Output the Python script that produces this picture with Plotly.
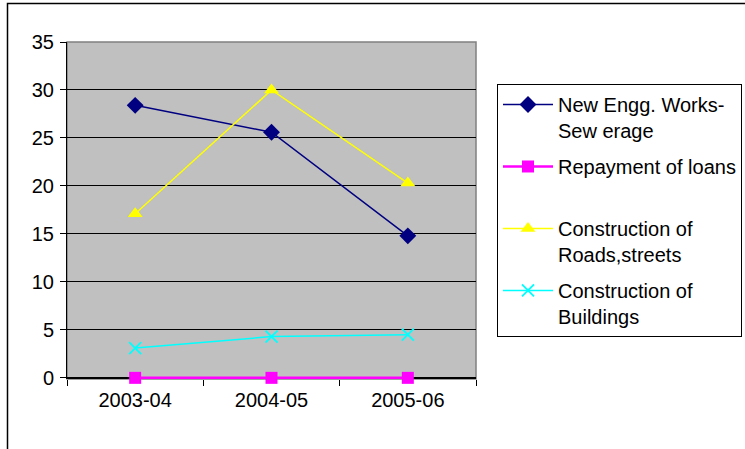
import plotly.graph_objects as go

years = ["2003-04", "2004-05", "2005-06"]
new_engg = [28.4, 25.6, 14.8]
repayment = [0, 0, 0]
roads = [17.1, 30.0, 20.3]
buildings = [3.1, 4.3, 4.5]

names = ["New Engg. Works-<br>Sew erage", "Repayment of loans<br> ",
         "Construction of<br>Roads,streets", "Construction of<br>Buildings"]

FONT = "Liberation Sans, Arial, sans-serif"

fig = go.Figure()
fig.add_trace(go.Scatter(x=years, y=new_engg, name=names[0], legendgroup="g0", mode="lines+markers",
                         line=dict(color="#000080", width=1.5),
                         marker=dict(symbol="diamond", size=13, color="#000080"), cliponaxis=False))
fig.add_trace(go.Scatter(x=years, y=repayment, name=names[1], legendgroup="g1", mode="lines+markers",
                         line=dict(color="#FF00FF", width=2.5),
                         marker=dict(symbol="square", size=12, color="#FF00FF"), cliponaxis=False))
fig.add_trace(go.Scatter(x=years, y=roads, name=names[2], legendgroup="g2", mode="lines+markers",
                         line=dict(color="#FFFF00", width=1.5),
                         marker=dict(symbol="triangle-up", size=13, color="#FFFF00"), cliponaxis=False))
fig.add_trace(go.Scatter(x=years, y=buildings, name=names[3], legendgroup="g3", mode="lines+markers",
                         line=dict(color="#00FFFF", width=1.5),
                         marker=dict(symbol="x-thin", size=12, color="#00FFFF",
                                     line=dict(color="#00FFFF", width=1.8)), cliponaxis=False))

YMIN, YMAX = -0.12, 35
L, R, T = 67, 476, 42
B = 378 + (0 - YMIN) * (378 - 42) / 35
W, H = 745, 449
pw, ph = R - L, B - T

def px(x):
    return (x - L) / pw

def py(y):
    return (B - y) / ph

fig.update_layout(
    width=W, height=H,
    margin=dict(l=L, r=W - R, t=T, b=H - B, pad=0, autoexpand=False),
    paper_bgcolor="white",
    plot_bgcolor="#C0C0C0",
    font=dict(family=FONT, size=20, color="black"),
    showlegend=True,
    legend=dict(x=px(497), y=py(84), xanchor="left", yanchor="top",
                bgcolor="white", bordercolor="black", borderwidth=1,
                font=dict(family=FONT, size=20, color="black"),
                valign="top", tracegroupgap=7, itemwidth=50),
    xaxis=dict(type="category", showgrid=False, showline=False,
               ticks="outside", ticklen=6, tickcolor="black", tickson="boundaries",
               tickfont=dict(family=FONT, size=20, color="black"), zeroline=False,
               range=[-0.5, 2.5], ticklabelstandoff=7),
    yaxis=dict(range=[YMIN, YMAX], tick0=0, dtick=5, showgrid=True, gridcolor="black", gridwidth=1,
               showline=True, linecolor="black", linewidth=1, ticks="outside", ticklen=6,
               tickcolor="black", tickfont=dict(family=FONT, size=20, color="black"),
               zeroline=True, zerolinecolor="black", zerolinewidth=1.5, ticklabelstandoff=2),
    shapes=[
        dict(type="rect", xref="paper", yref="paper", x0=0, x1=1, y0=0, y1=1,
             line=dict(color="#808080", width=1.5), layer="below"),
        dict(type="rect", xref="paper", yref="paper", x0=px(7.5), x1=px(760), y0=py(3.5), y1=py(470),
             line=dict(color="black", width=1.5), fillcolor="rgba(0,0,0,0)"),
    ],
)

fig.write_html("out.html")
